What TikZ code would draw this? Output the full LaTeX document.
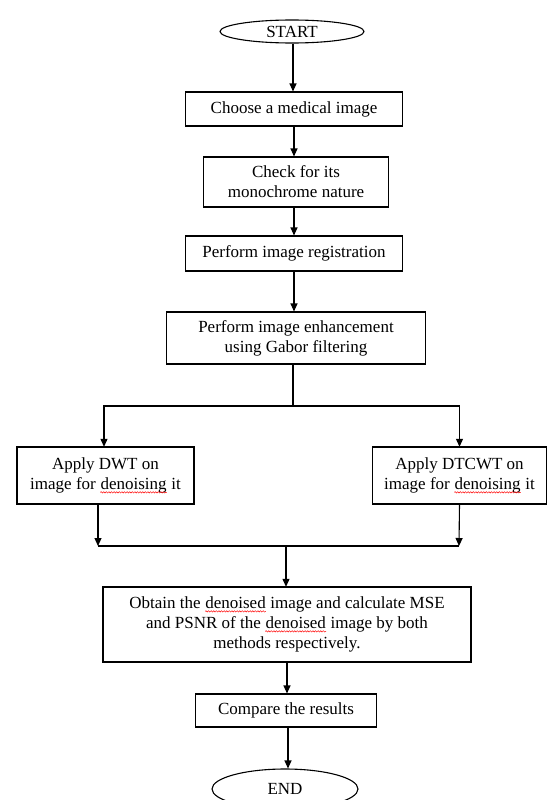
\documentclass[tikz,border=0pt]{standalone}
\usepackage{fontspec}
\setmainfont{Liberation Serif}
\usetikzlibrary{shapes.geometric,arrows.meta,decorations.pathmorphing}
\newcommand\redwave[1]{\tikz[baseline=(w.base)]{\node[rectangle, inner sep=0pt, draw=none, minimum width=0pt, minimum height=0pt] (w) {#1};
    \draw[red, line width=0.45pt, decorate, decoration={snake, amplitude=0.7pt, segment length=2.6pt}]
      ([yshift=-2.8pt]w.base west) -- ([yshift=-2.8pt]w.base east);}}

\begin{document}
\begin{tikzpicture}[x=1pt, y=-1pt, line width=1.1pt,
    every node/.style={font=\fontsize{17}{20}\selectfont, align=center, inner sep=0pt},
    box/.style={rectangle, draw},
    term/.style={ellipse, draw},
    arr/.style={-{Triangle[length=8pt,width=7pt]}}]
    \useasboundingbox (0,0) rectangle (547,800);

    % ノードの配置
    \node[term, minimum width=144, minimum height=23] (start) at (292, 31.5) {START};
    \node[box, minimum width=217, minimum height=34] (choose) at (294, 109) {Choose a medical image};
    \node[box, minimum width=185, minimum height=50] (check) at (296, 182) {Check for its\\monochrome nature};
    \node[box, minimum width=217, minimum height=35] (reg) at (294, 253.5) {Perform image registration};
    \node[box, minimum width=259, minimum height=52] (enh) at (296, 338) {Perform image enhancement\\using Gabor filtering};
    \node[box, minimum width=177, minimum height=57] (dwt) at (105.5, 475.5) {Apply DWT on\\image for \redwave{denoising} it};
    \node[box, minimum width=174, minimum height=57] (dtcwt) at (459.5, 475.5) {Apply DTCWT on\\image for \redwave{denoising} it};
    \node[box, minimum width=368, minimum height=75] (obtain) at (287, 624.5) {Obtain the \redwave{denoised} image and calculate MSE\\and PSNR of the \redwave{denoised} image by both\\methods respectively.};
    \node[box, minimum width=181, minimum height=33] (compare) at (286, 710.5) {Compare the results};
    \node[term, minimum width=146, minimum height=40] (end) at (285, 789) {END};

    % 分岐と合流の点
    \coordinate (split) at (293, 406);
    \coordinate (jl) at (98, 546);
    \coordinate (jr) at (459, 546);
    \coordinate (join) at (286, 546);

    % 矢印
    \draw[arr] (293,0 |- start.south) -- (293,0 |- choose.north);
    \draw[arr] (294,0 |- choose.south) -- (294,0 |- check.north);
    \draw[arr] (294,0 |- check.south) -- (294,0 |- reg.north);
    \draw[arr] (294,0 |- reg.south) -- (294,0 |- enh.north);
    \draw (split |- enh.south) -- (split);
    \draw[arr] (split) -| (104,0 |- dwt.north);
    \draw[arr] (split) -| (dtcwt.north);
    \draw[arr] (jl |- dwt.south) -- (jl);
    \draw[arr] (dtcwt.south) -- (jr);
    \draw (jl) -- (jr);
    \draw[arr] (join) -- (join |- obtain.north);
    \draw[arr] (287,0 |- obtain.south) -- (287,0 |- compare.north);
    \draw[arr] (288,0 |- compare.south) -- (288,0 |- end.north);
\end{tikzpicture}
\end{document}
